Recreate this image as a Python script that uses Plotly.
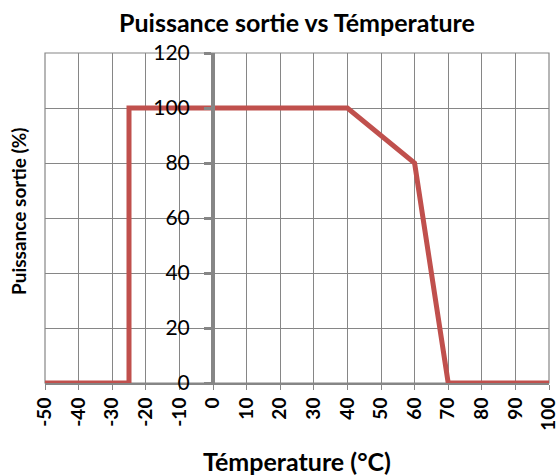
import plotly.graph_objects as go

# Data
temperature = [-50, -25, -25, 40, 60, 70, 100]
puissance = [0, 0, 100, 100, 80, 0, 0]
x_ticks = list(range(-50, 101, 10))
y_ticks = list(range(0, 121, 20))

FONT = "Lato"
GRID = "#868686"
RED = "#C0504D"

fig = go.Figure()
fig.add_trace(go.Scatter(
    x=temperature, y=puissance, mode="lines",
    line=dict(color=RED, width=5), hoverinfo="skip", showlegend=False,
))

W, H = 560, 475
ml, mr, mt, mb = 45, 11, 53, 92
ph = H - mt - mb

fig.update_layout(
    width=W, height=H,
    margin=dict(l=ml, r=mr, t=mt, b=mb, autoexpand=False),
    paper_bgcolor="white", plot_bgcolor="white",
    font=dict(family=FONT, color="black"),
    title=dict(text="Puissance sortie vs Témperature", x=0.5, xref="paper",
               y=1 - 23 / H, yanchor="middle", automargin=False,
               font=dict(family=FONT, size=25, weight="bold", color="black")),
    xaxis=dict(
        range=[-50, 100], tickmode="array", tickvals=x_ticks,
        ticktext=[str(v) for v in x_ticks], automargin=False,
        tickangle=-90, tickfont=dict(family=FONT, size=19, weight="bold"),
        showgrid=True, gridcolor=GRID, gridwidth=1.2,
        ticks="outside", ticklen=5, tickcolor=GRID, tickwidth=1,
        showline=True, linecolor=GRID, linewidth=2,
        zeroline=False,
    ),
    yaxis=dict(
        range=[0, 120], tickmode="array", tickvals=y_ticks,
        ticktext=[str(v) for v in y_ticks], automargin=False,
        anchor="free", position=1 / 3,
        tickfont=dict(family=FONT, size=21),
        showgrid=True, gridcolor=GRID, gridwidth=1.2,
        ticks="outside", ticklen=7, tickcolor=GRID, tickwidth=3,
        ticklabelstandoff=10,
        showline=True, linecolor=GRID, linewidth=4,
        zeroline=False,
    ),
    shapes=[dict(type="rect", xref="paper", yref="paper", x0=0, x1=1, y0=0, y1=1,
                 line=dict(color=GRID, width=1.2), layer="below")],
    annotations=[
        dict(text="Puissance sortie (%)", xref="paper", yref="paper",
             x=-(ml - 18) / (W - ml - mr), y=(H - mb - 212) / ph,
             xanchor="center", yanchor="middle",
             textangle=-90, showarrow=False,
             font=dict(family=FONT, size=19, weight="bold", color="black")),
        dict(text="Témperature (°C)", xref="paper", yref="paper",
             x=0.5, y=-(461 - (H - mb)) / ph, xanchor="center", yanchor="middle",
             showarrow=False,
             font=dict(family=FONT, size=25, weight="bold", color="black")),
    ],
)

fig.write_html("out.html", config={"displayModeBar": False},
               post_script="document.body.style.margin='0';")
